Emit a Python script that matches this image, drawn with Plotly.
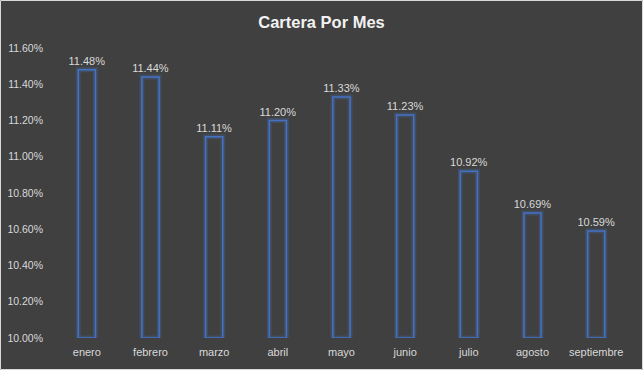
import plotly.graph_objects as go

months = ["enero", "febrero", "marzo", "abril", "mayo", "junio", "julio", "agosto", "septiembre"]
cartera_pct = [11.48, 11.44, 11.11, 11.20, 11.33, 11.23, 10.92, 10.69, 10.59]
axis_base_pct = 10.0
axis_top_pct = 11.6
tick_step_pct = 0.2

vals = [v / 100 for v in cartera_pct]
base = axis_base_pct / 100
heights = [v - base for v in vals]
labels = [f"{v:.2f}%" for v in cartera_pct]

BG = "#404040"
BLUE = "#4472C4"
TXT = "#D9D9D9"
FONT = "Liberation Sans, Arial, sans-serif"

fig = go.Figure()
# glow
fig.add_trace(go.Bar(
    x=months, y=heights, base=base,
    marker=dict(color="rgba(0,0,0,0)", line=dict(color="rgba(68,114,196,0.25)", width=5)),
    hoverinfo="skip", showlegend=False,
))
fig.add_trace(go.Bar(
    x=months, y=heights, base=base,
    marker=dict(color="rgba(0,0,0,0)", line=dict(color=BLUE, width=1.5)),
    text=labels, textposition="outside", cliponaxis=False, constraintext="none",
    textfont=dict(color=TXT, size=11, family=FONT),
    showlegend=False,
))

L, R, T, B = 55, 15, 48, 32
W, H = 643, 370
pw, ph = W - L - R, H - T - B

fig.update_layout(
    width=W, height=H,
    margin=dict(l=L, r=R, t=T, b=B, autoexpand=False),
    paper_bgcolor=BG, plot_bgcolor=BG,
    barmode="overlay", bargap=0.73,
    title=dict(text="<b>Cartera Por Mes</b>", x=0.5, xanchor="center", y=1 - 22 / H, yanchor="middle",
               font=dict(color="#F2F2F2", size=16.5, family=FONT)),
    xaxis=dict(showgrid=False, showline=False, zeroline=False, ticks="", automargin=False,
               ticklabelstandoff=6,
               tickfont=dict(color=TXT, size=11, family=FONT)),
    yaxis=dict(range=[base, axis_top_pct / 100], dtick=tick_step_pct / 100, tick0=base,
               tickformat=".2%", showgrid=False, zeroline=False, showline=False,
               ticks="", ticklabelstandoff=11, automargin=False,
               tickfont=dict(color=TXT, size=10.5, family=FONT)),
    shapes=[dict(type="rect", xref="paper", yref="paper",
                 x0=-(L - 0.5) / pw, x1=1 + (R - 0.5) / pw,
                 y0=-(B - 0.5) / ph, y1=1 + (T - 0.5) / ph,
                 line=dict(color="#D9D9D9", width=1), layer="below")],
)

fig.write_html("out.html", config={"displayModeBar": False},
               post_script="document.body.style.margin='0';")
